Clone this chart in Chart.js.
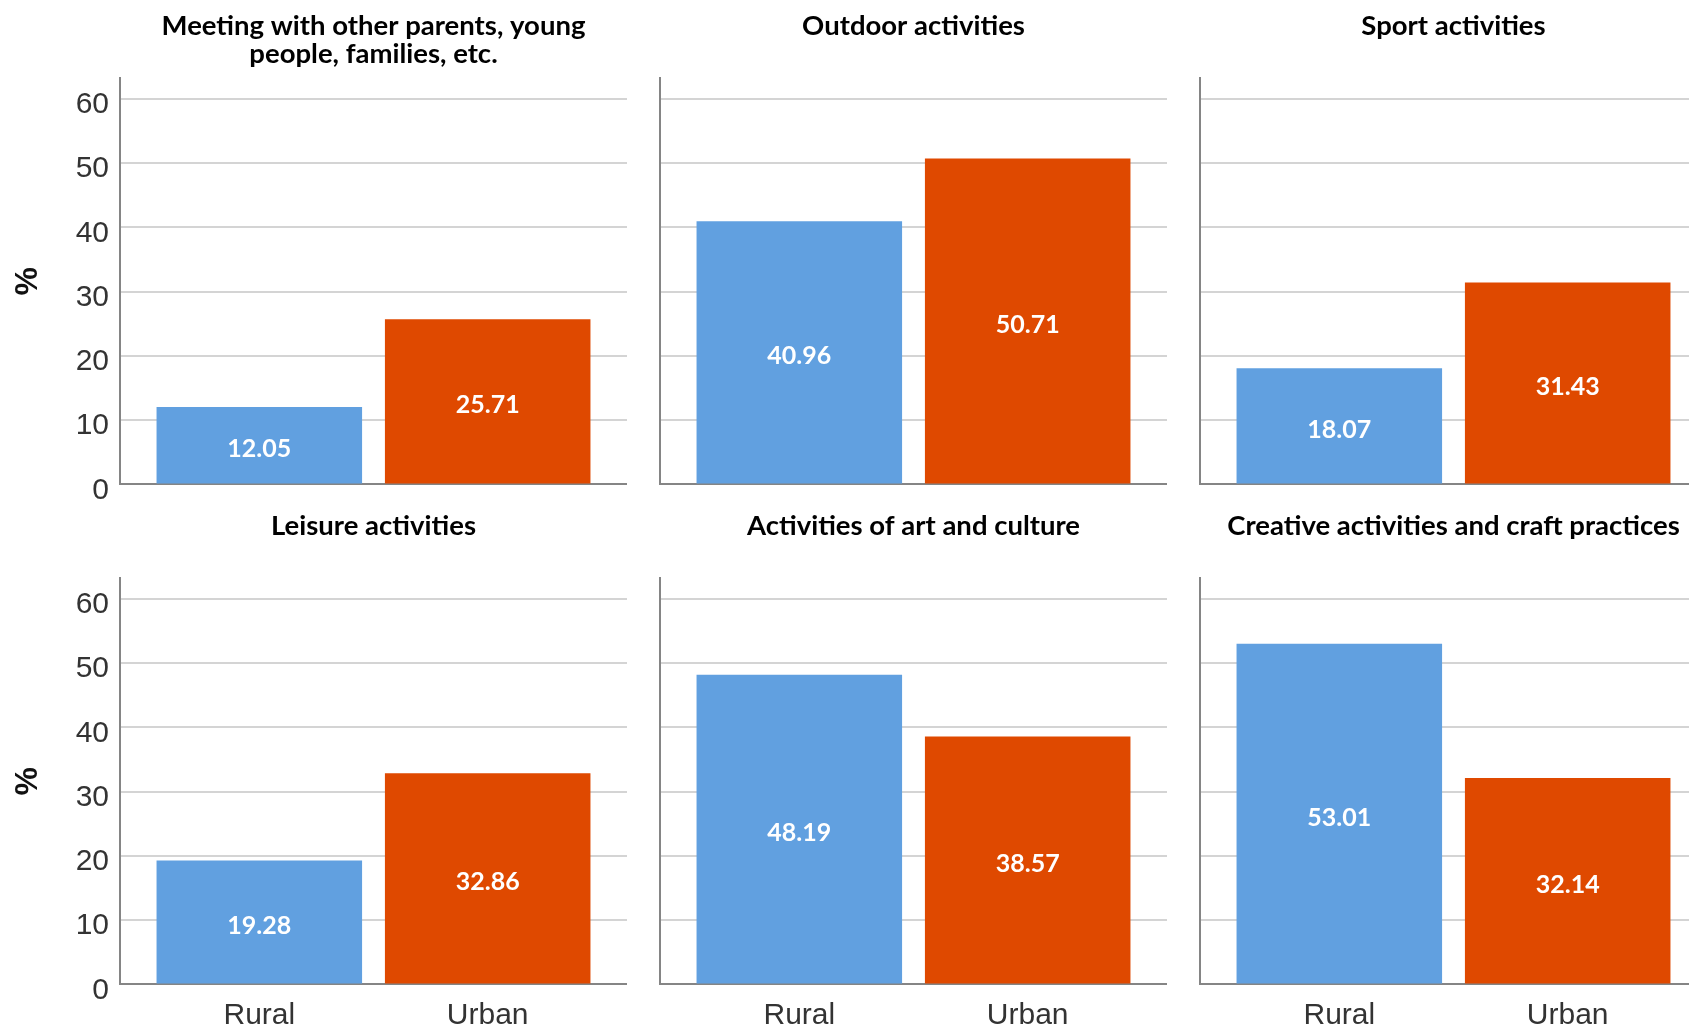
<!DOCTYPE html>
<html lang="en">
<head>
<meta charset="UTF-8">
<title>Participation in activities, rural vs urban</title>
<script src="https://cdn.jsdelivr.net/npm/chart.js"></script>
<style>
  body { margin: 0; background: #fff; width: 1689px; height: 1028px; overflow: hidden; position: relative; }
  .panel { position: absolute; }
</style>
</head>
<body>
<script>
// data
const categories = ['Rural', 'Urban'];
const titles = [
  ['Meeting with other parents, young', 'people, families, etc.'],
  ['Outdoor activities'],
  ['Sport activities'],
  ['Leisure activities'],
  ['Activities of art and culture'],
  ['Creative activities and craft practices']
];
const rural = [12.05, 40.96, 18.07, 19.28, 48.19, 53.01];
const urban = [25.71, 50.71, 31.43, 32.86, 38.57, 32.14];
const yTicks = [0, 10, 20, 30, 40, 50, 60];
const yMax = 63.2;

const barColors = ['#61a0e0', '#df4900'];
const axisColor = '#858585';
const gridColor = '#d4d4d4';

// panel placement (y-axis x position per column, top per row)
const colX = [120, 660, 1200];
const rowY = [0, 500];
const plotW = 507;

// white value labels in the middle of each bar
const valueLabels = {
  id: 'valueLabels',
  afterDatasetsDraw(chart) {
    const ctx = chart.ctx;
    const ds = chart.data.datasets[0];
    ctx.save();
    ctx.fillStyle = '#fff';
    ctx.font = 'bold 25px Lato';
    ctx.textAlign = 'center';
    ctx.textBaseline = 'middle';
    chart.getDatasetMeta(0).data.forEach((bar, k) => {
      ctx.fillText(ds.data[k].y.toFixed(2), bar.x, (bar.y + bar.base) / 2 + 4);
    });
    ctx.restore();
  }
};

titles.forEach((t, i) => {
  const col = i % 3, row = Math.floor(i / 3);
  const first = col === 0, bottom = row === 1;
  const yW = first ? 120 : 12;

  const div = document.createElement('div');
  div.className = 'panel';
  div.style.left = (colX[col] - yW) + 'px';
  div.style.top = rowY[row] + 'px';
  div.style.width = (yW + plotW) + 'px';
  div.style.height = (bottom ? 528 : 520) + 'px';
  const canvas = document.createElement('canvas');
  div.appendChild(canvas);
  document.body.appendChild(div);

  const values = [rural[i], urban[i]];

  new Chart(canvas, {
    type: 'bar',
    data: {
      datasets: [{
        data: categories.map((c, k) => ({ x: k, y: values[k] })),
        backgroundColor: barColors,
        barPercentage: 0.9,
        categoryPercentage: 1
      }]
    },
    options: {
      responsive: true,
      maintainAspectRatio: false,
      animation: false,
      layout: { padding: 0 },
      plugins: {
        legend: { display: false },
        tooltip: { enabled: false },
        title: {
          display: true,
          text: t,
          fullSize: false,
          color: '#000',
          font: { family: 'Lato', weight: 'bold', size: 27.5, lineHeight: '28px' },
          padding: { top: 12, bottom: 78.3 - 12 - 28 * t.length }
        }
      },
      scales: {
        x: {
          type: 'linear',
          min: -0.61,
          max: 1.61,
          offset: false,
          bounds: 'data',
          grid: { display: false, offset: false },
          border: { display: true, color: axisColor, width: 2 },
          afterBuildTicks: a => { a.ticks = categories.map((c, k) => ({ value: k })); },
          afterFit: a => { a.height = bottom ? 43.6 : 35.6; },
          ticks: {
            display: bottom,
            autoSkip: false,
            maxRotation: 0,
            padding: 5,
            color: '#333',
            font: { family: 'Liberation Sans', size: 30 },
            callback: v => categories[v]
          }
        },
        y: {
          min: 0,
          max: yMax,
          afterBuildTicks: a => { a.ticks = yTicks.map(v => ({ value: v })); },
          afterFit: a => { a.width = yW; },
          grid: { color: gridColor, lineWidth: 2, drawTicks: false },
          border: { color: axisColor, width: 2 },
          ticks: {
            display: first,
            padding: 11,
            labelOffset: 6,
            color: '#333',
            font: { family: 'Liberation Sans', size: 30 }
          },
          title: {
            display: first,
            text: '%',
            color: '#111',
            font: { family: 'Liberation Sans', weight: 'bold', size: 32 },
            padding: { top: 9, bottom: 0 }
          }
        }
      }
    },
    plugins: [valueLabels]
  });
});
</script>
</body>
</html>
